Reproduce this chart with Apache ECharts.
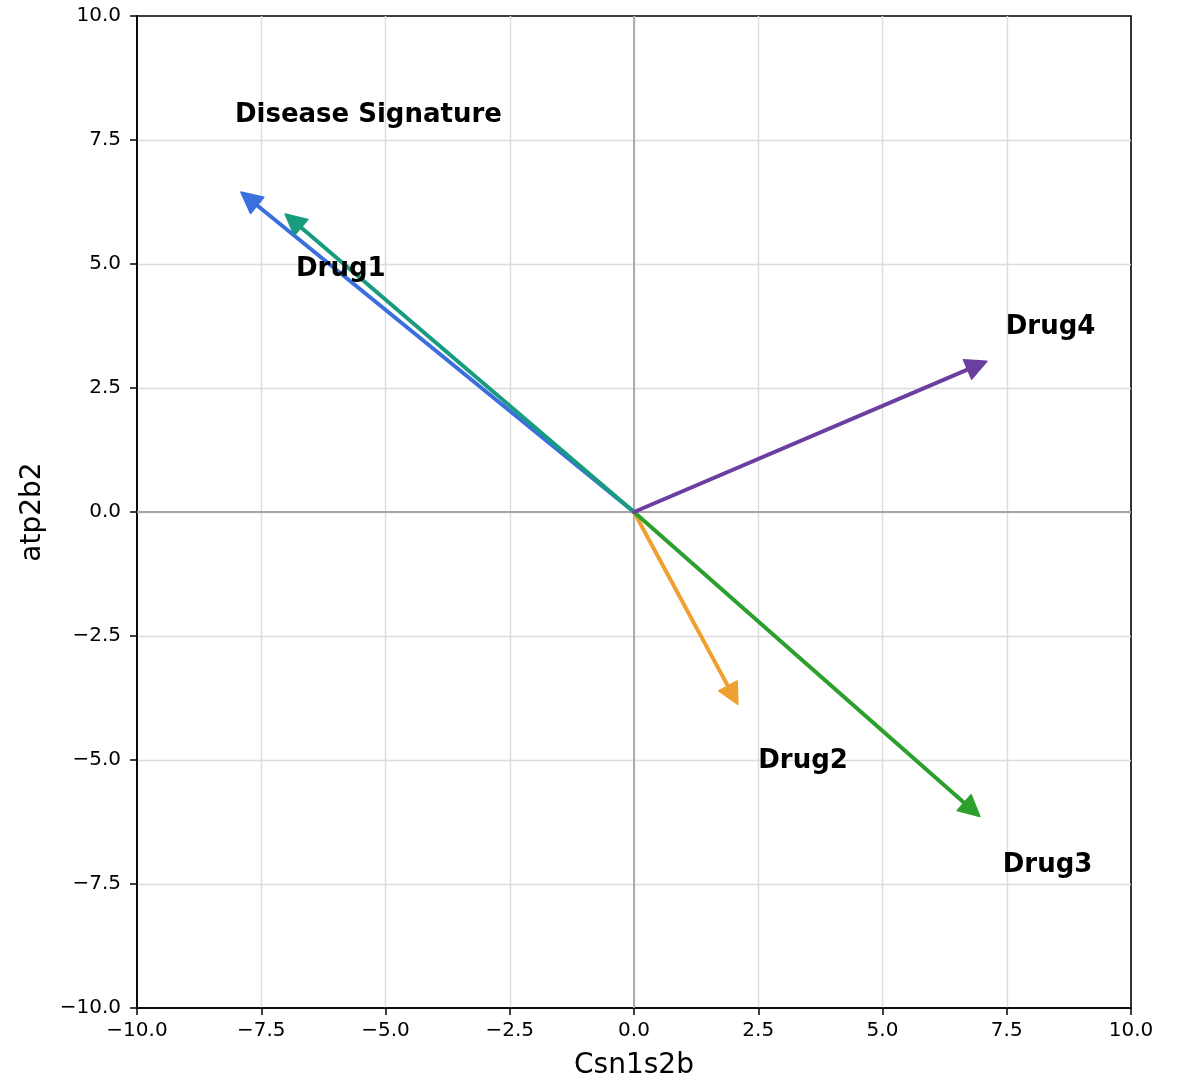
<!DOCTYPE html>
<html>
<head>
<meta charset="utf-8">
<script src="https://cdn.jsdelivr.net/npm/echarts@6/dist/echarts.min.js"></script>
<style>
  html, body { margin: 0; padding: 0; background: #ffffff; }
  #chart { width: 1179px; height: 1078px; }
</style>
</head>
<body>
<div id="chart"></div>
<script>
// Gene-space vectors: each signature is an arrow from the origin
const vectorNames = ['Disease Signature', 'Drug1', 'Drug2', 'Drug3', 'Drug4'];
const vectorX = [-7.91, -7.02, 2.09, 6.96, 7.10];
const vectorY = [6.45, 6.01, -3.88, -6.14, 3.04];
const vectorColors = ['#3b6fde', '#179c7f', '#f0a030', '#2ca02c', '#6b3fa0'];

// Where each name is written (left edge, vertical middle)
const labelX = [-8.03, -6.80, 2.50, 7.42, 7.48];
const labelY = [8.00, 4.90, -5.02, -7.12, 3.73];

// Axis ticks
const axisMin = -10;
const axisMax = 10;
const tickStep = 2.5;

const FONT = 'DejaVu Sans';

function fmtTick(v) {
  const s = Math.abs(v).toFixed(1);
  return v < 0 ? '\u2212' + s : s;
}

const chart = echarts.init(document.getElementById('chart'), null, { renderer: 'canvas' });

const arrowData = vectorX.map((x, i) => [x, vectorY[i], i]);
const labelData = labelX.map((x, i) => [x, labelY[i], i]);

function renderArrow(params, api) {
  const i = api.value(2);
  const o = api.coord([0, 0]);
  const t = api.coord([api.value(0), api.value(1)]);
  const dx = t[0] - o[0], dy = t[1] - o[1];
  const len = Math.sqrt(dx * dx + dy * dy);
  const ux = dx / len, uy = dy / len;
  const headLen = 21, headHalf = 10.5;
  const bx = t[0] - ux * headLen, by = t[1] - uy * headLen;
  const px = -uy, py = ux;
  const color = vectorColors[i];
  return {
    type: 'group',
    children: [
      {
        type: 'line',
        shape: { x1: o[0], y1: o[1], x2: bx + ux * 3, y2: by + uy * 3 },
        style: { stroke: color, lineWidth: 4, lineCap: 'round' }
      },
      {
        type: 'polygon',
        shape: {
          points: [
            [t[0], t[1]],
            [bx + px * headHalf, by + py * headHalf],
            [bx - px * headHalf, by - py * headHalf]
          ]
        },
        style: { fill: color, stroke: color, lineWidth: 1.5, lineJoin: 'round' }
      }
    ]
  };
}

function renderLabel(params, api) {
  const i = api.value(2);
  const p = api.coord([api.value(0), api.value(1)]);
  return {
    type: 'text',
    x: p[0],
    y: p[1],
    style: {
      text: vectorNames[i],
      fill: '#000000',
      font: 'bold 26px "' + FONT + '"',
      align: 'left',
      verticalAlign: 'middle',
      textAlign: 'left',
      textVerticalAlign: 'middle'
    }
  };
}

const option = {
  backgroundColor: '#ffffff',
  animation: false,
  grid: {
    left: 137, right: 48, top: 16, bottom: 70,
    show: true,
    borderColor: '#000000',
    borderWidth: 1.6,
    containLabel: false,
    outerBoundsMode: 'none'
  },
  xAxis: {
    type: 'value',
    min: axisMin, max: axisMax, interval: tickStep,
    name: 'Csn1s2b',
    nameLocation: 'middle',
    nameGap: 44,
    nameTextStyle: { fontFamily: FONT, fontSize: 28, color: '#000000' },
    axisLine: { show: true, onZero: false, lineStyle: { color: '#000000', width: 1.6 } },
    axisTick: { show: true, length: 7, lineStyle: { color: '#000000', width: 1.5 } },
    axisLabel: { fontFamily: FONT, fontSize: 20, color: '#000000', margin: 13, formatter: fmtTick },
    splitLine: { show: true, showMinLine: false, showMaxLine: false, lineStyle: { color: '#dcdcdc', width: 1.4 } }
  },
  yAxis: {
    type: 'value',
    min: axisMin, max: axisMax, interval: tickStep,
    name: 'atp2b2',
    nameLocation: 'middle',
    nameGap: 90,
    nameRotate: 90,
    nameTextStyle: { fontFamily: FONT, fontSize: 28, color: '#000000' },
    axisLine: { show: true, onZero: false, lineStyle: { color: '#000000', width: 1.6 } },
    axisTick: { show: true, length: 7, lineStyle: { color: '#000000', width: 1.5 } },
    axisLabel: { fontFamily: FONT, fontSize: 20, color: '#000000', margin: 16, formatter: fmtTick },
    splitLine: { show: true, showMinLine: false, showMaxLine: false, lineStyle: { color: '#dcdcdc', width: 1.4 } }
  },
  series: [
    {
      type: 'line',
      data: [[axisMin, 0], [axisMax, 0]],
      symbol: 'none',
      silent: true,
      lineStyle: { color: '#a6a6a6', width: 1.8 },
      z: 1
    },
    {
      type: 'line',
      data: [[0, axisMin], [0, axisMax]],
      symbol: 'none',
      silent: true,
      lineStyle: { color: '#a6a6a6', width: 1.8 },
      z: 1
    },
    {
      type: 'custom',
      renderItem: renderArrow,
      data: arrowData,
      encode: { x: 0, y: 1 },
      z: 3
    },
    {
      type: 'custom',
      renderItem: renderLabel,
      data: labelData,
      encode: { x: 0, y: 1 },
      z: 4
    }
  ]
};

chart.setOption(option);
</script>
</body>
</html>
